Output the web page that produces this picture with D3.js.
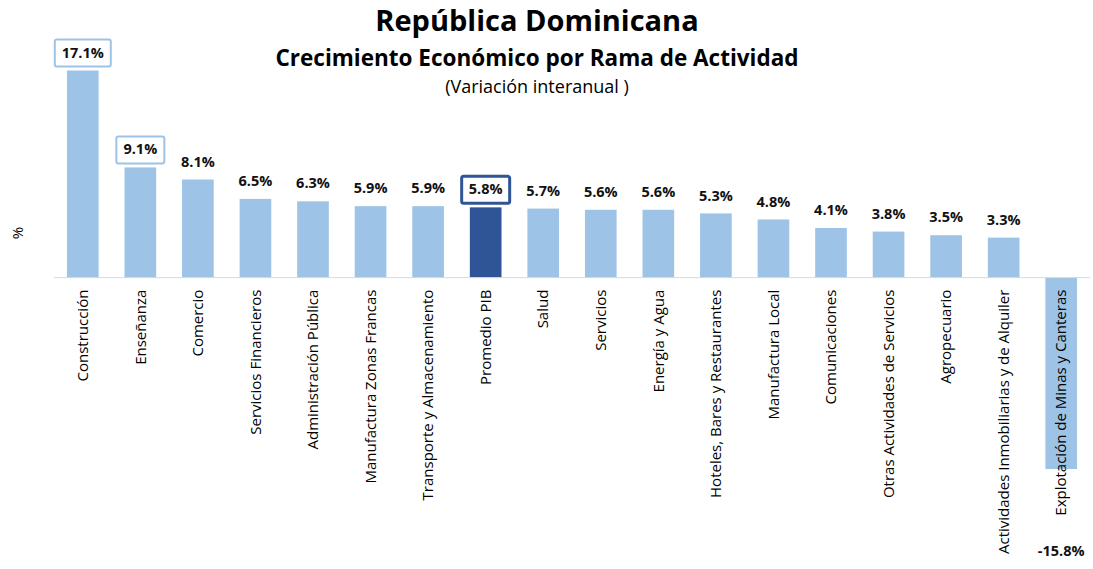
<!DOCTYPE html>
<html>
<head>
<meta charset="utf-8">
<script src="https://cdn.jsdelivr.net/npm/d3@7"></script>
<style>
  body { margin: 0; background: #fff; }
  text { font-family: "Open Sans", "Noto Sans", sans-serif; }
</style>
</head>
<body>
<div id="chart"></div>
<script>
const categories = ["Construcción","Enseñanza","Comercio","Servicios Financieros","Administración Pública",
  "Manufactura Zonas Francas","Transporte y Almacenamiento","Promedio PIB","Salud","Servicios",
  "Energía y Agua","Hoteles, Bares y Restaurantes","Manufactura Local","Comunicaciones",
  "Otras Actividades de Servicios","Agropecuario","Actividades Inmobiliarias y de Alquiler",
  "Explotación de Minas y Canteras"]
const values = [17.1, 9.1, 8.1, 6.5, 6.3, 5.9, 5.9, 5.8, 5.7, 5.6, 5.6, 5.3, 4.8, 4.1, 3.8, 3.5, 3.3, -15.8]
const boxed = ["Construcción", "Enseñanza", "Promedio PIB"]
const highlight = "Promedio PIB"

const width = 1093, height = 569

const svg = d3.select("#chart").append("svg")
  .attr("width", width)
  .attr("height", height)

const x = d3.scaleBand()
  .domain(categories)
  .range([54, 1090])
  .paddingInner(0.45)
  .paddingOuter(0.225)

const y = d3.scaleLinear()
  .domain([-15.8, 17.1])
  .range([469, 70.5])

// titles
svg.append("text").attr("x", 537).attr("y", 31).attr("text-anchor", "middle")
  .style("font-size", "29px").style("font-weight", "bold").text("República Dominicana")
svg.append("text").attr("x", 537).attr("y", 66).attr("text-anchor", "middle")
  .style("font-size", "22.5px").style("font-weight", "bold").text("Crecimiento Económico por Rama de Actividad")
svg.append("text").attr("x", 537).attr("y", 93).attr("text-anchor", "middle")
  .style("font-size", "18px").text("(Variación interanual )")

svg.append("text")
  .attr("transform", "translate(23,233) rotate(-90)")
  .attr("text-anchor", "middle")
  .style("font-size", "15px")
  .text("%")

// bars
svg.selectAll(".bar")
  .data(categories)
  .enter()
  .append("rect")
  .attr("class", "bar")
  .attr("x", d => x(d))
  .attr("width", x.bandwidth())
  .attr("y", (d, i) => y(Math.max(0, values[i])))
  .attr("height", (d, i) => Math.abs(y(values[i]) - y(0)))
  .attr("fill", d => d === highlight ? "#2f5597" : "#9dc3e6")

// zero line
svg.append("line")
  .attr("x1", 54).attr("x2", 1090)
  .attr("y1", y(0)).attr("y2", y(0))
  .attr("stroke", "#d9d9d9").attr("stroke-width", 1)

// category labels
svg.selectAll(".cat")
  .data(categories)
  .enter()
  .append("text")
  .attr("class", "cat")
  .attr("transform", d => "translate(" + (x(d) + x.bandwidth() / 2) + "," + (y(0) + 12) + ") rotate(-90)")
  .attr("text-anchor", "end")
  .attr("dy", "0.35em")
  .style("font-size", "15px")
  .text(d => d)

// value labels
const lab = svg.selectAll(".val")
  .data(categories)
  .enter()
  .append("g")
  .attr("class", "val")
  .attr("transform", (d, i) => {
    const cx = x(d) + x.bandwidth() / 2
    const cy = values[i] >= 0 ? y(values[i]) - 18 : 551
    return "translate(" + cx + "," + cy + ")"
  })

lab.filter(d => boxed.includes(d))
  .append("rect")
  .attr("x", (d, i) => d === "Construcción" ? -28 : -24)
  .attr("width", d => d === "Construcción" ? 56 : 48)
  .attr("y", -13)
  .attr("height", 27)
  .attr("fill", "#fff")
  .attr("stroke", d => d === highlight ? "#2f5597" : "#9dc3e6")
  .attr("stroke-width", d => d === highlight ? 3 : 2)
  .attr("rx", 2)

lab.append("text")
  .attr("text-anchor", "middle")
  .attr("dy", "0.35em")
  .style("font-size", "14.5px")
  .style("font-weight", "bold")
  .style("fill", "#111")
  .text(d => {
    const v = values[categories.indexOf(d)]
    return v.toFixed(1) + "%"
  })
</script>
</body>
</html>
